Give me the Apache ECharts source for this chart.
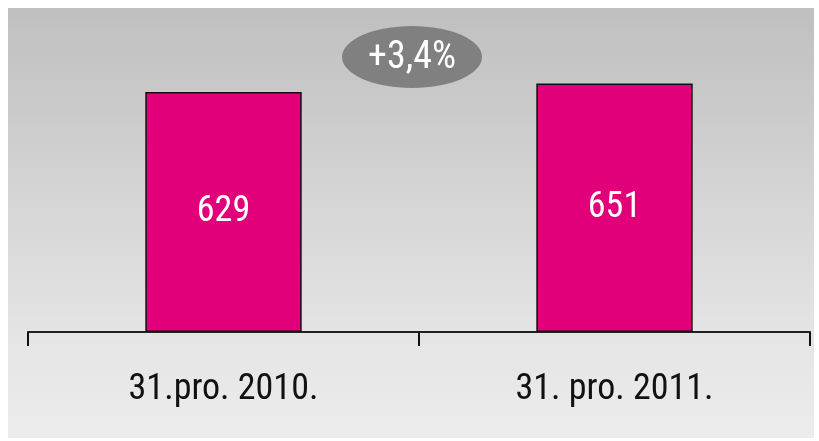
<!DOCTYPE html>
<html>
<head>
<meta charset="utf-8">
<script src="https://cdn.jsdelivr.net/npm/echarts@6/dist/echarts.min.js"></script>
<style>
  html, body { margin: 0; padding: 0; background: #fff; }
  #chart { width: 819px; height: 441px; }
</style>
</head>
<body>
<div id="chart"></div>
<script>
  var categories = ['31.pro. 2010.', '31. pro. 2011.'];
  var values = [629, 651];
  var changeLabel = '+3,4%';

  var narrow = '"Liberation Sans Narrow", "Arial Narrow", "Roboto Condensed", Roboto, sans-serif';

  var chart = echarts.init(document.getElementById('chart'));
  chart.setOption({
    animation: false,
    graphic: [
      {
        type: 'rect',
        z: -10,
        shape: { x: 8, y: 8, width: 806, height: 430 },
        style: {
          fill: new echarts.graphic.LinearGradient(0, 0, 0, 1, [
            { offset: 0, color: '#bfbfbf' },
            { offset: 0.75, color: '#e4e4e4' },
            { offset: 1, color: '#ececec' }
          ])
        },
        silent: true
      },
      {
        type: 'ellipse',
        z: 10,
        shape: { cx: 412, cy: 57, rx: 70, ry: 31 },
        style: { fill: '#808080' }
      },
      {
        type: 'text',
        z: 11,
        x: 412,
        y: 58,
        style: {
          text: changeLabel,
          fill: '#fff',
          font: '38px ' + narrow,
          align: 'center',
          verticalAlign: 'middle'
        }
      }
    ],
    grid: { left: 28, right: 9, top: 7.7, bottom: 109, containLabel: false },
    xAxis: {
      type: 'category',
      data: categories,
      axisLine: { lineStyle: { color: '#222', width: 2 } },
      axisTick: { show: true, length: 14, lineStyle: { color: '#111', width: 2 } },
      axisLabel: { color: '#111', fontSize: 36, fontFamily: narrow, margin: 40 }
    },
    yAxis: {
      type: 'value',
      min: 0,
      max: 850,
      show: false,
      splitLine: { show: false }
    },
    series: [{
      type: 'bar',
      data: values,
      barWidth: '40%',
      itemStyle: { color: '#e2007a', borderColor: '#111', borderWidth: 1.5 },
      label: {
        show: true,
        position: 'inside',
        color: '#fff',
        fontSize: 36,
        fontFamily: narrow
      }
    }]
  });
</script>
</body>
</html>
